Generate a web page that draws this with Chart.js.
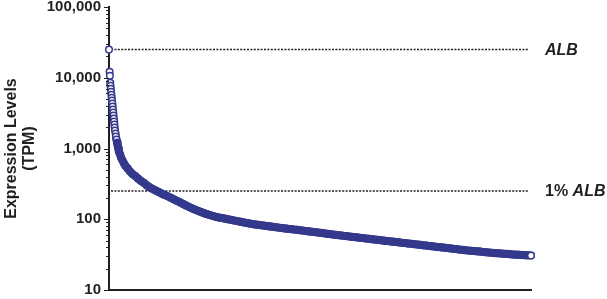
<!DOCTYPE html>
<html>
<head>
<meta charset="utf-8">
<script src="https://cdn.jsdelivr.net/npm/chart.js"></script>
<style>
  html, body { margin: 0; padding: 0; background: #fff; }
  #wrap { width: 607px; height: 299px; }
</style>
</head>
<body>
<div id="wrap"><canvas id="graficoExpressao"></canvas></div>
<script>
// gene rank (x) and expression in TPM (y)
const ranks = [
    1, 3, 4, 5, 6, 7, 8, 9, 10, 11,
    12, 13, 14, 15, 16, 17, 18, 19, 20, 21,
    23, 24, 26, 28, 30, 32, 34, 38, 41, 46,
    51, 56, 63, 71, 79, 88, 97, 107, 117, 127,
    137, 147, 157, 167, 177, 187, 197, 207, 217, 227,
    237, 247, 257, 267, 277, 287, 297, 307, 317, 327,
    337, 347,
    357, 367, 377, 387, 397, 407, 417, 427, 437, 447,
    457, 467, 477, 487, 497, 507, 517, 527, 537, 547,
    557, 567, 577, 587, 597, 607, 617, 627, 637, 647,
    657, 667, 677, 687, 697, 707, 717, 727, 737, 747,
    757, 767, 777, 787, 797, 807, 817, 827, 837, 847,
    857, 867, 877, 887, 897, 907, 917, 927, 937, 947,
    957, 967, 977, 987, 997, 1007, 1017, 1027, 1037, 1047,
    1057, 1067, 1077, 1087, 1097, 1107, 1117, 1127, 1137, 1147,
    1157, 1167, 1177, 1187, 1197, 1207, 1217, 1227, 1237, 1247,
    1257, 1267, 1277, 1287, 1297, 1307, 1317, 1327, 1337, 1347,
    1357, 1367, 1377, 1387, 1397, 1407
];
const tpm = [
    25000, 12150, 10670, 8505, 7715, 7000, 6350, 5763, 5228, 4745,
    4303, 3904, 3543, 3214, 2916, 2646, 2401, 2178, 1976, 1793,
    1627, 1476, 1339, 1215, 1102, 1000, 907, 823, 747, 678,
    615, 567, 523, 474, 437, 410, 378, 349, 327, 301,
    282, 267, 254, 242, 230, 220, 211, 201, 191, 182,
    174, 165, 157, 150, 143, 137, 132, 127, 122, 118,
    114.6, 111.3,
    108.1, 106.0, 104.0, 102.0, 100, 98.1, 96.2, 94.3, 92.5, 90.7,
    89.0, 87.3, 85.6, 84.5, 83.4, 82.3, 81.3, 80.2, 79.2, 78.2,
    77.2, 76.1, 75.2, 74.2, 73.2, 72.5, 71.6, 70.9, 70.0, 69.1,
    68.2, 67.3, 66.5, 65.8, 65.0, 64.1, 63.3, 62.5, 61.7, 60.9,
    60.1, 59.5, 58.7, 58.0, 57.4, 56.7, 56.0, 55.4, 54.7, 54.2,
    53.5, 53.0, 52.3, 51.6, 51.1, 50.4, 49.8, 49.3, 48.7, 48.2,
    47.6, 47.1, 46.5, 46.1, 45.5, 45.0, 44.5, 44.0, 43.5, 43.0,
    42.5, 41.9, 41.5, 41.0, 40.6, 40.1, 39.7, 39.2, 38.8, 38.3,
    37.9, 37.4, 37.1, 36.6, 36.2, 35.9, 35.5, 35.2, 34.9, 34.5,
    34.2, 33.9, 33.5, 33.2, 33.0, 32.8, 32.6, 32.4, 32.1, 31.8,
    31.6, 31.4, 31.2, 31.1, 30.9, 30.7
];
const yTicks = [10, 100, 1000, 10000, 100000];
const refValues = [25000, 250];
const refPrefix = ['', '1% '];
const refGene = ['ALB', 'ALB'];

const ink = '#231f20';
const navy = '#34398c';
const fonte = '"Liberation Sans", Arial, Helvetica, sans-serif';
// points before this index stand apart (open circles); after it they merge into a solid band
const inicioFaixa = 22;

// short minor ticks + long major ticks on the log axis
const marcasLog = {
    id: 'marcasLog',
    afterDraw(chart) {
        const ctx = chart.ctx;
        const escala = chart.scales.y;
        const x0 = chart.chartArea.left;
        ctx.save();
        ctx.strokeStyle = ink;
        ctx.lineWidth = 1;
        for (let d = 0; d < yTicks.length; d++) {
            const base = yTicks[d];
            const ultimo = d === yTicks.length - 1 ? 1 : 9;
            for (let m = 1; m <= ultimo; m++) {
                const py = Math.round(escala.getPixelForValue(base * m)) + 0.5;
                const len = m === 1 ? 5 : 3;
                ctx.beginPath();
                ctx.moveTo(x0 - len, py);
                ctx.lineTo(x0, py);
                ctx.stroke();
            }
        }
        ctx.restore();
    }
};

// dotted reference lines for ALB and 1% ALB
const linhasRef = {
    id: 'linhasRef',
    beforeDatasetsDraw(chart) {
        const ctx = chart.ctx;
        const escala = chart.scales.y;
        const area = chart.chartArea;
        ctx.save();
        ctx.strokeStyle = ink;
        ctx.lineWidth = 1.5;
        ctx.setLineDash([2, 1.4]);
        refValues.forEach(function(v) {
            const py = escala.getPixelForValue(v);
            ctx.beginPath();
            ctx.moveTo(area.left + 2, py);
            ctx.lineTo(area.right - 3, py);
            ctx.stroke();
        });
        ctx.restore();
    },
    afterDraw(chart) {
        const ctx = chart.ctx;
        const escala = chart.scales.y;
        ctx.save();
        ctx.fillStyle = ink;
        ctx.textBaseline = 'middle';
        refValues.forEach(function(v, i) {
            const py = escala.getPixelForValue(v) + 0.5;
            let px = 545;
            ctx.font = 'bold 16px ' + fonte;
            if (refPrefix[i]) {
                ctx.fillText(refPrefix[i], px, py);
                px += ctx.measureText(refPrefix[i]).width;
            }
            ctx.font = 'italic bold 16px ' + fonte;
            ctx.fillText(refGene[i], px, py);
        });
        ctx.restore();
    }
};

const pontos = ranks.map(function(r, i) {
    return { x: r, y: tpm[i] };
});

new Chart(document.getElementById('graficoExpressao'), {
    type: 'scatter',
    data: {
        datasets: [{
            label: 'TPM',
            data: pontos,
            showLine: true,
            borderColor: navy,
            borderWidth: 8,
            borderCapStyle: 'round',
            borderJoinStyle: 'round',
            segment: {
                borderColor: function(ctx) {
                    return ctx.p0DataIndex < inicioFaixa ? 'rgba(0,0,0,0)' : navy;
                }
            },
            pointRadius: 3.3,
            pointBorderWidth: 1.5,
            pointBorderColor: navy,
            pointBackgroundColor: function(ctx) {
                const i = ctx.dataIndex;
                return (i <= inicioFaixa || i === tpm.length - 1) ? '#ffffff' : navy;
            },
            pointHoverRadius: 3.3,
            clip: false
        }]
    },
    options: {
        responsive: true,
        maintainAspectRatio: false,
        animation: false,
        layout: {
            padding: { left: 0, right: 76, top: 7, bottom: 9 }
        },
        plugins: {
            legend: { display: false },
            tooltip: { enabled: false }
        },
        scales: {
            x: {
                type: 'linear',
                min: 1,
                max: 1407,
                ticks: { display: false },
                grid: { display: false, drawTicks: false },
                border: { display: true, color: ink, width: 2 },
                afterFit: function(scale) {
                    scale.height = 0;
                    scale.paddingLeft = 0;
                    scale.paddingRight = 0;
                }
            },
            y: {
                type: 'logarithmic',
                min: 10,
                max: 100000,
                afterBuildTicks: function(scale) {
                    scale.ticks = yTicks.map(function(v) { return { value: v }; });
                },
                afterFit: function(scale) {
                    scale.width = 109;
                    scale.paddingTop = 0;
                    scale.paddingBottom = 0;
                },
                ticks: {
                    color: ink,
                    padding: 8,
                    font: { family: fonte, size: 15, weight: 'bold' },
                    callback: function(v) { return Number(v).toLocaleString('en-US'); }
                },
                grid: { display: false, drawTicks: false },
                border: { display: true, color: ink, width: 2 },
                title: {
                    display: true,
                    text: ['Expression Levels', '(TPM)'],
                    color: ink,
                    padding: { top: 3, bottom: 0 },
                    font: { family: fonte, size: 16, weight: 'bold', lineHeight: 1.1 }
                }
            }
        }
    },
    plugins: [marcasLog, linhasRef]
});
</script>
</body>
</html>
